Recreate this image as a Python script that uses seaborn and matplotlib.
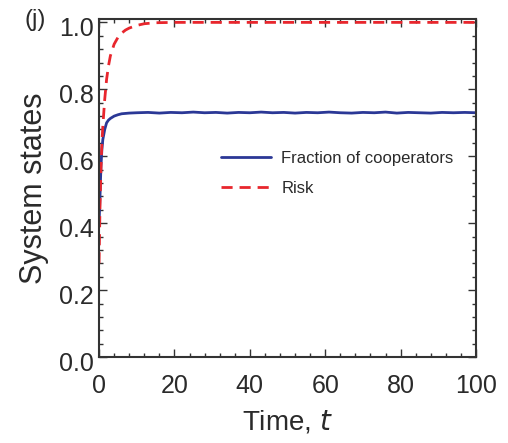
import matplotlib
matplotlib.use("Agg")
import matplotlib.pyplot as plt
import matplotlib.transforms as mtransforms
import seaborn as sns
import pandas as pd
from matplotlib.ticker import MultipleLocator

sns.set_theme(style="ticks")
plt.rcParams['font.family'] = ['Liberation Sans', 'DejaVu Sans']

# Risk (red dashed)
risk_t = [0, 0.25, 0.5, 0.75, 1, 1.5, 2, 2.5, 3, 4, 5, 6, 7, 8, 10, 12, 15, 20, 30, 40, 50, 60, 70, 80, 90, 100]
risk_v = [0.28, 0.45, 0.56, 0.64, 0.69, 0.77, 0.83, 0.87, 0.90, 0.935, 0.955, 0.968, 0.977, 0.983, 0.991, 0.996, 0.999, 1.0, 1.0, 1.0, 1.0, 1.0, 1.0, 1.0, 1.0, 1.0]

# Fraction of cooperators (blue solid)
coop_t = [0, 0.25, 0.5, 0.75, 1, 1.5, 2, 2.5, 3, 4, 5, 6, 7, 8, 10, 13, 16, 19, 22, 25, 28, 31, 34, 37, 40, 43, 46,
          49, 52, 55, 58, 61, 64, 67, 70, 73, 76, 79, 82, 85, 88, 91, 94, 97, 100]
coop_v = [0.40, 0.48, 0.57, 0.62, 0.65, 0.68, 0.70, 0.708, 0.713, 0.72, 0.724, 0.727, 0.728, 0.729, 0.730, 0.731, 0.729,
          0.731, 0.730, 0.732, 0.730, 0.731, 0.729, 0.731, 0.730, 0.732, 0.730, 0.731, 0.729, 0.731, 0.730, 0.732,
          0.730, 0.729, 0.731, 0.730, 0.732, 0.729, 0.731, 0.730, 0.729, 0.731, 0.730, 0.731, 0.730]

y_ticks = [0, 0.2, 0.4, 0.6, 0.8, 1.0]
y_ticklabels = ["0.0", "0.2", "0.4", "0.6", "0.8", "1.0"]

coop_df = pd.DataFrame({"t": coop_t, "v": coop_v})
risk_df = pd.DataFrame({"t": risk_t, "v": risk_v})

fig = plt.figure(figsize=(5.08, 4.43), dpi=100)
ax = fig.add_axes([0.195, 0.194, 0.742, 0.763])

sns.lineplot(data=coop_df, x="t", y="v", ax=ax, color="#2b3896", lw=2.0, label="Fraction of cooperators")
sns.lineplot(data=risk_df, x="t", y="v", ax=ax, color="#e8262d", lw=2.0, label="Risk")
ax.lines[1].set_dashes([4, 2.5])

ax.set_xlim(0, 100)
ax.set_ylim(0, 1.01)
ax.xaxis.set_major_locator(MultipleLocator(20))
ax.xaxis.set_minor_locator(MultipleLocator(4))
ax.yaxis.set_minor_locator(MultipleLocator(0.04))
ax.set_yticks(y_ticks)
ax.set_yticklabels(y_ticklabels)

tc = "#2a2a2a"
for s in ax.spines.values():
    s.set_color("#333333")
    s.set_linewidth(1.5)
ax.tick_params(which="both", direction="in", top=True, right=True, colors="#333333",
               labelcolor=tc, labelsize=18, width=1.0)
ax.tick_params(which="major", length=6)
ax.tick_params(which="minor", length=3)
ax.tick_params(axis="x", pad=12)
ax.tick_params(axis="y", pad=4)

offset = mtransforms.ScaledTranslation(0, -4 / 100, fig.dpi_scale_trans)
for lbl in ax.get_yticklabels():
    lbl.set_transform(lbl.get_transform() + offset)

ax.set_xlabel("Time, $\\mathit{t}$", fontsize=20, color=tc, labelpad=8)
ax.set_ylabel("System states", fontsize=22, color=tc, labelpad=7)

leg = ax.legend(loc="upper left", bbox_to_anchor=(0.285, 0.655), frameon=False, fontsize=12,
                handlelength=3.0, labelspacing=0.9, handletextpad=0.6)
for t in leg.get_texts():
    t.set_color(tc)

fig.text(0.069, 0.955, "(j)", fontsize=17, color=tc, ha="center", va="center")

fig.savefig("out.png", dpi=100)
